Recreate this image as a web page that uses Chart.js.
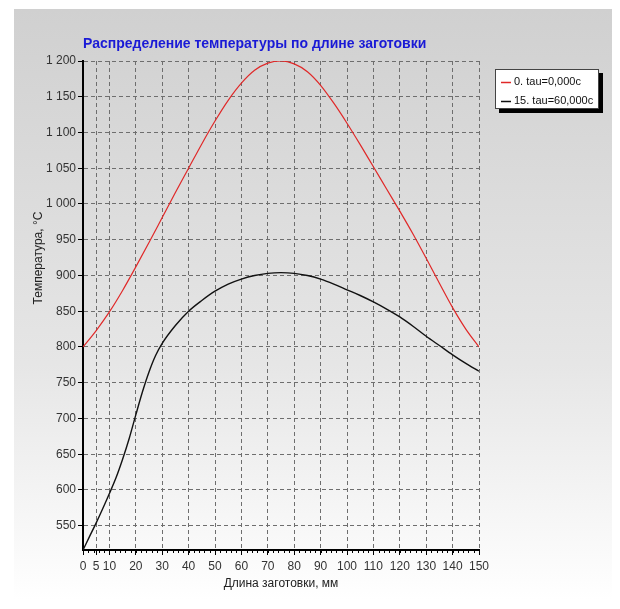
<!DOCTYPE html>
<html>
<head>
<meta charset="utf-8">
<script src="https://cdn.jsdelivr.net/npm/chart.js@4.4.1/dist/chart.umd.min.js"></script>
<style>
  html, body { margin: 0; padding: 0; background: #ffffff; }
  #wrap { width: 620px; height: 609px; position: relative; }
</style>
</head>
<body>
<div id="wrap"><canvas id="c" width="620" height="609"></canvas></div>
<script>
// ---- data ----
const chartTitle = 'Распределение температуры по длине заготовки';
const xTitle = 'Длина заготовки, мм';
const yTitle = 'Температура, °C';
const seriesNames = ['0. tau=0,000c', '15. tau=60,000c'];

const xTicks = [0, 5, 10, 20, 30, 40, 50, 60, 70, 80, 90, 100, 110, 120, 130, 140, 150];
const yTicks = [550, 600, 650, 700, 750, 800, 850, 900, 950, 1000, 1050, 1100, 1150, 1200];

const redX = [0, 5, 10, 15, 20, 25, 30, 35, 40, 45, 50, 55, 60, 65, 70, 75, 80, 85, 90, 95, 100, 105, 110, 115, 120, 125, 130, 135, 140, 145, 150];
const redY = [800, 823, 849, 879, 912, 946, 981, 1016, 1050, 1084, 1116, 1145, 1169, 1187, 1197, 1200, 1196, 1185, 1166, 1141, 1113, 1083, 1052, 1021, 990, 958, 924, 889, 855, 825, 800];

const blackX = [0, 2.5, 5, 7.5, 10, 12.5, 15, 17.5, 20, 22.5, 25, 27.5, 30, 35, 40, 45, 50, 55, 60, 65, 70, 75, 80, 85, 90, 95, 100, 105, 110, 115, 120, 125, 130, 135, 140, 145, 150];
const blackY = [516, 535, 554, 574, 595, 617, 643, 672, 705, 737, 765, 788, 805, 830, 850, 865, 878, 888, 895, 900, 903, 904, 903, 900, 895, 888, 880, 872, 863, 853, 842, 829, 815, 802, 789, 777, 766];

const xMin = 0, xMax = 150, yMin = 516, yMax = 1200;
const colors = ['#e02828', '#111111'];

const FONT = '"Liberation Sans", Arial, sans-serif';

function fmt(v) {
  return String(v).replace(/\B(?=(\d{3})+(?!\d))/g, ' ');
}

const decor = {
  id: 'decor',
  beforeDraw(chart) {
    const ctx = chart.ctx;
    ctx.save();
    ctx.fillStyle = '#ffffff';
    ctx.fillRect(0, 0, chart.width, chart.height);
    const g = ctx.createLinearGradient(0, 9, 0, 600);
    g.addColorStop(0, '#d0d0d0');
    g.addColorStop(0.6, '#e6e6e6');
    g.addColorStop(1, '#ffffff');
    ctx.fillStyle = g;
    ctx.fillRect(14, 9, 598, 591);
    ctx.restore();
  },
  afterDraw(chart) {
    const ctx = chart.ctx;
    const xs = chart.scales.x;
    const area = chart.chartArea;
    ctx.save();
    // minor ticks on x axis
    ctx.strokeStyle = '#000';
    ctx.lineWidth = 1;
    ctx.beginPath();
    for (let v = xMin; v <= xMax; v += 2) {
      const px = Math.round(xs.getPixelForValue(v)) + 0.5;
      ctx.moveTo(px, area.bottom);
      ctx.lineTo(px, area.bottom + 3);
    }
    ctx.stroke();

    // title
    ctx.fillStyle = '#1a1ad6';
    ctx.font = 'bold 14px ' + FONT;
    ctx.textBaseline = 'middle';
    ctx.textAlign = 'left';
    ctx.fillText(chartTitle, area.left, 44);

    // x title
    ctx.fillStyle = '#222';
    ctx.font = '12px ' + FONT;
    ctx.textAlign = 'center';
    ctx.fillText(xTitle, 281, 584);

    // y title
    ctx.save();
    ctx.translate(39, 258);
    ctx.rotate(-Math.PI / 2);
    ctx.fillText(yTitle, 0, 0);
    ctx.restore();

    // legend
    const lx = 495, ly = 69, lw = 104, lh = 40;
    ctx.fillStyle = '#000';
    ctx.fillRect(lx + 4, ly + 4, lw, lh);
    ctx.fillStyle = '#fff';
    ctx.fillRect(lx, ly, lw, lh);
    ctx.strokeStyle = '#444';
    ctx.lineWidth = 1;
    ctx.strokeRect(lx + 0.5, ly + 0.5, lw - 1, lh - 1);
    ctx.font = '11px ' + FONT;
    ctx.textAlign = 'left';
    ctx.textBaseline = 'middle';
    chart.data.datasets.forEach((ds, i) => {
      const yy = ly + 13 + i * 19;
      ctx.strokeStyle = ds.borderColor;
      ctx.lineWidth = 1.5;
      ctx.beginPath();
      ctx.moveTo(lx + 6, yy + 0.5);
      ctx.lineTo(lx + 16, yy + 0.5);
      ctx.stroke();
      ctx.fillStyle = '#111';
      ctx.fillText(ds.label, lx + 19, yy);
    });
    ctx.restore();
  }
};

const gridCommon = {
  color: '#6e6e6e',
  lineWidth: 1,
  drawTicks: true,
  tickLength: 5,
  tickColor: '#000',
  tickBorderDash: [],
  tickWidth: 1
};
const borderCommon = { display: true, color: '#000', width: 2, dash: [4, 3] };

new Chart(document.getElementById('c'), {
  type: 'line',
  data: {
    datasets: [
      {
        label: seriesNames[0],
        data: redX.map((x, i) => ({ x: x, y: redY[i] })),
        borderColor: colors[0],
        borderWidth: 1.2,
        pointRadius: 0,
        cubicInterpolationMode: 'monotone',
        fill: false
      },
      {
        label: seriesNames[1],
        data: blackX.map((x, i) => ({ x: x, y: blackY[i] })),
        borderColor: colors[1],
        borderWidth: 1.4,
        pointRadius: 0,
        cubicInterpolationMode: 'monotone',
        fill: false
      }
    ]
  },
  options: {
    responsive: false,
    animation: false,
    events: [],
    layout: { padding: { left: 0, right: 141, top: 61, bottom: 0 } },
    plugins: {
      legend: { display: false },
      title: { display: false },
      tooltip: { enabled: false }
    },
    scales: {
      x: {
        type: 'linear',
        min: xMin,
        max: xMax,
        afterBuildTicks: s => { s.ticks = xTicks.map(v => ({ value: v })); },
        afterFit: s => { s.height = 59; },
        grid: Object.assign({}, gridCommon),
        border: Object.assign({}, borderCommon),
        ticks: {
          autoSkip: false,
          maxRotation: 0,
          padding: 4,
          color: '#333',
          font: { family: FONT, size: 12 },
          callback: v => fmt(v)
        }
      },
      y: {
        type: 'linear',
        min: yMin,
        max: yMax,
        afterBuildTicks: s => { s.ticks = yTicks.map(v => ({ value: v })); },
        afterFit: s => { s.width = 83; },
        grid: Object.assign({}, gridCommon),
        border: Object.assign({}, borderCommon),
        ticks: {
          autoSkip: false,
          padding: 2,
          color: '#333',
          font: { family: FONT, size: 12 },
          callback: v => fmt(v)
        }
      }
    }
  },
  plugins: [decor]
});
</script>
</body>
</html>
